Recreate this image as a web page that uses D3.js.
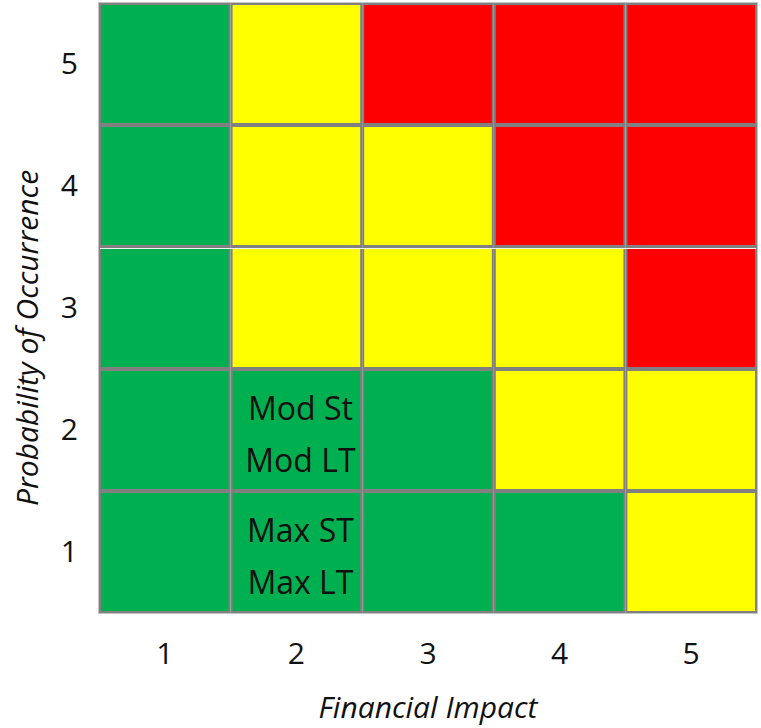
<!DOCTYPE html>
<html>
<head>
<meta charset="utf-8">
<script src="https://cdn.jsdelivr.net/npm/d3@7"></script>
<style>
  html, body { margin: 0; padding: 0; background: #fff; }
  svg text { font-family: "Open Sans", "Noto Sans", sans-serif; fill: #111; }
</style>
</head>
<body>
<svg id="chart" width="761" height="728"></svg>
<script>
// Financial impact (columns) and probability of occurrence (rows)
const impactLevels = ["1", "2", "3", "4", "5"];
const probabilityLevels = ["5", "4", "3", "2", "1"];

// Rating per row (probability 5 down to 1), one entry per impact level
const ratingsP5 = ["low", "medium", "high", "high", "high"];
const ratingsP4 = ["low", "medium", "medium", "high", "high"];
const ratingsP3 = ["low", "medium", "medium", "medium", "high"];
const ratingsP2 = ["low", "low", "low", "medium", "medium"];
const ratingsP1 = ["low", "low", "low", "low", "medium"];

const ratingNames = ["low", "medium", "high"];
const ratingColors = ["#00b050", "#ffff00", "#ff0000"];

// Positions placed into cells
const cellNotes = [
  { impact: "2", probability: "2", lines: ["Mod St", "Mod LT"] },
  { impact: "2", probability: "1", lines: ["Max ST", "Max LT"] }
];

const xTitle = "Financial Impact";
const yTitle = "Probability of Occurrence";

const ratingRows = [ratingsP5, ratingsP4, ratingsP3, ratingsP2, ratingsP1];
const cells = [];
probabilityLevels.forEach((p, i) => {
  impactLevels.forEach((imp, j) => {
    cells.push({ impact: imp, probability: p, rating: ratingRows[i][j] });
  });
});

const svg = d3.select("#chart");
const margin = { left: 99, top: 3, right: 4, bottom: 115 };
const width = 761 - margin.left - margin.right;
const height = 728 - margin.top - margin.bottom;

const x = d3.scaleBand().domain(impactLevels).range([0, width]);
const y = d3.scaleBand().domain(probabilityLevels).range([0, height]);
const color = d3.scaleOrdinal().domain(ratingNames).range(ratingColors);

const g = svg.append("g").attr("transform", `translate(${margin.left},${margin.top})`);

// outer light frame
g.append("rect")
  .attr("x", -0.5).attr("y", -0.5)
  .attr("width", width + 1).attr("height", height + 1)
  .attr("fill", "none").attr("stroke", "#c4c4c4").attr("stroke-width", 1);

g.selectAll("rect.cell")
  .data(cells)
  .join("rect")
  .attr("class", "cell")
  .attr("x", d => x(d.impact) + 1)
  .attr("y", d => y(d.probability) + 1)
  .attr("width", x.bandwidth() - 2)
  .attr("height", y.bandwidth() - 2)
  .attr("fill", d => color(d.rating))
  .attr("stroke", "#808080")
  .attr("stroke-width", 2);

// thin white separator between probability 4 and 3
g.append("line")
  .attr("x1", 1).attr("x2", width - 1)
  .attr("y1", y("3") + 1.5).attr("y2", y("3") + 1.5)
  .attr("stroke", "#f2f2f2").attr("stroke-width", 1);

// cell notes
cellNotes.forEach(n => {
  const cx = x(n.impact) + x.bandwidth() / 2;
  const cy = y(n.probability) + y.bandwidth() / 2;
  const t = g.append("text")
    .attr("text-anchor", "middle")
    .attr("font-size", 32);
  n.lines.forEach((line, k) => {
    t.append("tspan")
      .attr("x", cx + 4)
      .attr("y", cy + 4 + (k - (n.lines.length - 1) / 2) * 52)
      .attr("dy", "0.36em")
      .text(line);
  });
});

// axes
const xAxis = g.append("g")
  .attr("transform", `translate(0,${height})`)
  .call(d3.axisBottom(x).tickSize(0).tickPadding(30));
const yAxis = g.append("g")
  .call(d3.axisLeft(y).tickSize(0).tickPadding(21));
[xAxis, yAxis].forEach(a => {
  a.select(".domain").remove();
  a.selectAll("text").attr("font-size", 30)
    .attr("font-family", "'Open Sans', 'Noto Sans', sans-serif").attr("fill", "#111");
});

svg.append("text")
  .attr("x", margin.left + width / 2)
  .attr("y", 718)
  .attr("text-anchor", "middle")
  .attr("font-size", 30)
  .attr("font-style", "italic")
  .text(xTitle);

svg.append("text")
  .attr("transform", `translate(38,${margin.top + height / 2 + 30}) rotate(-90)`)
  .attr("text-anchor", "middle")
  .attr("font-size", 30)
  .attr("font-style", "italic")
  .text(yTitle);
</script>
</body>
</html>
